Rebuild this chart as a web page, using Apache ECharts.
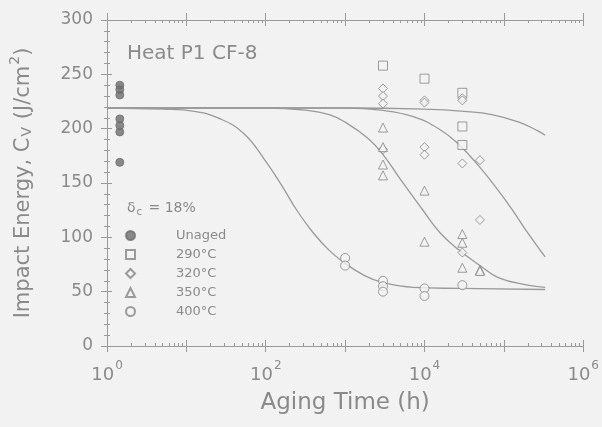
<!DOCTYPE html>
<html>
<head>
<meta charset="utf-8">
<script src="https://cdn.jsdelivr.net/npm/echarts@6/dist/echarts.min.js"></script>
<style>
html,body{margin:0;padding:0;background:#f2f2f2;}
#chart{width:602px;height:427px;}
</style>
</head>
<body>
<div id="chart"></div>
<script>
// Charpy impact energy of heat P1 (CF-8) versus aging time
const unagedTime = 1.45;
const unagedEnergy = [240, 236, 231, 209, 203, 197, 169];

const aged290 = [[3000, 258], [10000, 246], [30000, 233], [30000, 202], [30000, 185]];
const aged320 = [[3000, 237], [3000, 230], [3000, 223], [3000, 181], [10000, 226], [10000, 224],
                 [10000, 183], [10000, 176], [30000, 228], [30000, 226], [30000, 168], [30000, 86],
                 [50000, 171], [50000, 116]];
const aged350 = [[3000, 201], [3000, 183], [3000, 167], [3000, 157], [10000, 143], [10000, 96],
                 [30000, 103], [30000, 95], [30000, 72], [50000, 70], [50000, 69]];
const aged400 = [[1000, 81], [1000, 74], [3000, 60], [3000, 55], [3000, 50], [10000, 53],
                 [10000, 46], [30000, 56]];

// fitted aging curves, read as (hours, J/cm2)
const curve290 = [[1, 219], [1000, 219], [10000, 218], [31600, 216], [70800, 213], [155000, 206],
                  [269000, 198], [331000, 194]];
const curve320 = [[1, 219], [1000, 219], [2820, 217], [7240, 211], [15800, 199], [27500, 185],
                  [47900, 166], [79400, 146], [126000, 126], [200000, 104], [331000, 82]];
const curve350 = [[1, 219], [100, 219], [316, 217], [631, 213], [1000, 206], [1950, 191],
                  [3090, 175], [5010, 153], [9120, 127], [15800, 104], [27500, 88], [47900, 75],
                  [85100, 63], [200000, 56], [331000, 54]];
const curve400 = [[1, 219], [5, 218], [12.6, 216], [25, 210], [52, 196], [100, 170], [158, 148],
                  [251, 124], [398, 104], [631, 88], [1000, 76], [1740, 65], [2820, 59],
                  [7240, 54], [27500, 53], [331000, 52]];

// axis ticks (x in decades of hours)
const decadeTicks = [0, 1, 2, 3, 4, 5, 6];
const decadeLabels = [0, 2, 4, 6];
const minorTicks = [];
for (let d = 0; d < 6; d++) {
  for (let k = 2; k <= 9; k++) minorTicks.push(d + Math.log10(k));
}
const energyTicks = [0, 50, 100, 150, 200, 250, 300];

const TEXT = '#8a8a8a';
const LINE = '#9a9a9a';
const MARK = '#858585';
const BG = '#f2f2f2';
const FONT = 'DejaVu Sans';

function decoX(position, ticks, len, inside, extra) {
  return Object.assign({
    type: 'value', min: 0, max: 6, position: position,
    axisLine: { show: false },
    axisTick: { show: true, inside: inside, length: len, customValues: ticks,
                lineStyle: { color: LINE, width: 1 } },
    axisLabel: { show: false },
    splitLine: { show: false }
  }, extra || {});
}

function decoY(position, len, inside, minor, extra) {
  return Object.assign({
    type: 'value', min: 0, max: 300, interval: 50, position: position,
    axisLine: { show: false },
    axisTick: { show: true, inside: inside, length: len, lineStyle: { color: LINE, width: 1 } },
    minorTick: { show: minor, splitNumber: 5, length: 3, lineStyle: { color: LINE, width: 1 } },
    axisLabel: { show: false },
    splitLine: { show: false }
  }, extra || {});
}

const markerStyle = { color: BG, borderColor: MARK, borderWidth: 1 };

function scatter(name, data, symbol, size, style) {
  return {
    name: name, type: 'scatter', data: data, symbol: symbol, symbolSize: size,
    xAxisIndex: 0, yAxisIndex: 0, itemStyle: style || markerStyle, z: 5
  };
}

function curve(data) {
  return {
    type: 'line', data: data, xAxisIndex: 0, yAxisIndex: 0, showSymbol: false,
    smooth: 0.45, lineStyle: { color: LINE, width: 1.3 }, z: 3, silent: true
  };
}

const chart = echarts.init(document.getElementById('chart'));
chart.setOption({
  animation: false,
  backgroundColor: BG,
  textStyle: { fontFamily: FONT },
  grid: { left: 101, right: 16, top: 20, bottom: 81, containLabel: false },
  xAxis: [
    { type: 'log', logBase: 10, min: 1, max: 1000000, position: 'bottom', show: false },
    decoX('bottom', decadeTicks, 6, false, {
      axisLine: { show: true, lineStyle: { color: LINE, width: 1 } },
      axisLabel: {
        show: true, customValues: decadeLabels, margin: 14,
        formatter: v => '{b|10}{s|' + v + '}',
        rich: {
          b: { fontSize: 18, color: TEXT, fontFamily: FONT, verticalAlign: 'bottom', lineHeight: 18 },
          s: { fontSize: 12, color: TEXT, fontFamily: FONT, verticalAlign: 'top', padding: [0, 0, 12, 1] }
        }
      },
      name: 'Aging Time (h)', nameLocation: 'middle', nameGap: 46,
      nameTextStyle: { fontSize: 23, color: TEXT, fontFamily: FONT }
    }),
    decoX('bottom', decadeTicks, 6, true),
    decoX('bottom', minorTicks, 3, true),
    decoX('top', decadeTicks, 7, false, {
      axisLine: { show: true, lineStyle: { color: LINE, width: 1 } }
    }),
    decoX('top', decadeTicks, 6, true),
    decoX('top', minorTicks, 3, true)
  ],
  yAxis: [
    {
      type: 'value', min: 0, max: 300, interval: 50, position: 'left',
      axisLine: { show: true, lineStyle: { color: LINE, width: 1 } },
      axisTick: { show: true, inside: false, length: 6, lineStyle: { color: LINE } },
      axisLabel: { show: true, margin: 14, fontSize: 17, color: TEXT, fontFamily: FONT,
                   customValues: energyTicks },
      splitLine: { show: false },
      name: '{a|Impact Energy, C}{sub|V}{a| (J/cm}{sup|2}{a|)}',
      nameLocation: 'middle', nameRotate: 90, nameGap: 73,
      nameTextStyle: {
        rich: {
          a: { fontSize: 21, color: TEXT, fontFamily: FONT, verticalAlign: 'bottom', lineHeight: 22 },
          sub: { fontSize: 14, color: TEXT, fontFamily: FONT, verticalAlign: 'bottom', padding: [0, 1, 0, 1] },
          sup: { fontSize: 14, color: TEXT, fontFamily: FONT, verticalAlign: 'top', padding: [0, 0, 12, 1] }
        }
      }
    },
    decoY('left', 3, true, true),
    decoY('right', 6, true, true, { axisLine: { show: true, lineStyle: { color: LINE, width: 1 } } }),
    decoY('right', 5, false, false)
  ],
  legend: {
    orient: 'vertical', left: 125, top: 229, padding: 0,
    itemWidth: 9, itemHeight: 9, itemGap: 6,
    textStyle: { fontSize: 13, color: TEXT, fontFamily: FONT, padding: [0, 0, 0, 36] },
    data: ['Unaged', '290°C', '320°C', '350°C', '400°C']
  },
  graphic: [
    { type: 'text', left: 127, top: 44,
      style: { text: 'Heat P1 CF-8', fontSize: 20, fill: TEXT, fontFamily: FONT } },
    { type: 'text', left: 127, top: 201,
      style: {
        text: '{d|δ}{c|c}{d| = 18%}',
        rich: {
          d: { fontSize: 14, fill: TEXT, fontFamily: FONT, verticalAlign: 'top' },
          c: { fontSize: 10, fill: TEXT, fontFamily: FONT, verticalAlign: 'bottom', padding: [6, 2, 0, 1] }
        }
      } }
  ],
  series: [
    curve(curve290),
    curve(curve320),
    curve(curve350),
    curve(curve400),
    scatter('Unaged', unagedEnergy.map(v => [unagedTime, v]), 'circle', 8,
            { color: '#6e6e6e', borderColor: '#6e6e6e', borderWidth: 1 }),
    scatter('290°C', aged290, 'rect', 9),
    scatter('320°C', aged320, 'diamond', 9),
    scatter('350°C', aged350, 'triangle', 9),
    scatter('400°C', aged400, 'circle', 9)
  ]
});
</script>
</body>
</html>
